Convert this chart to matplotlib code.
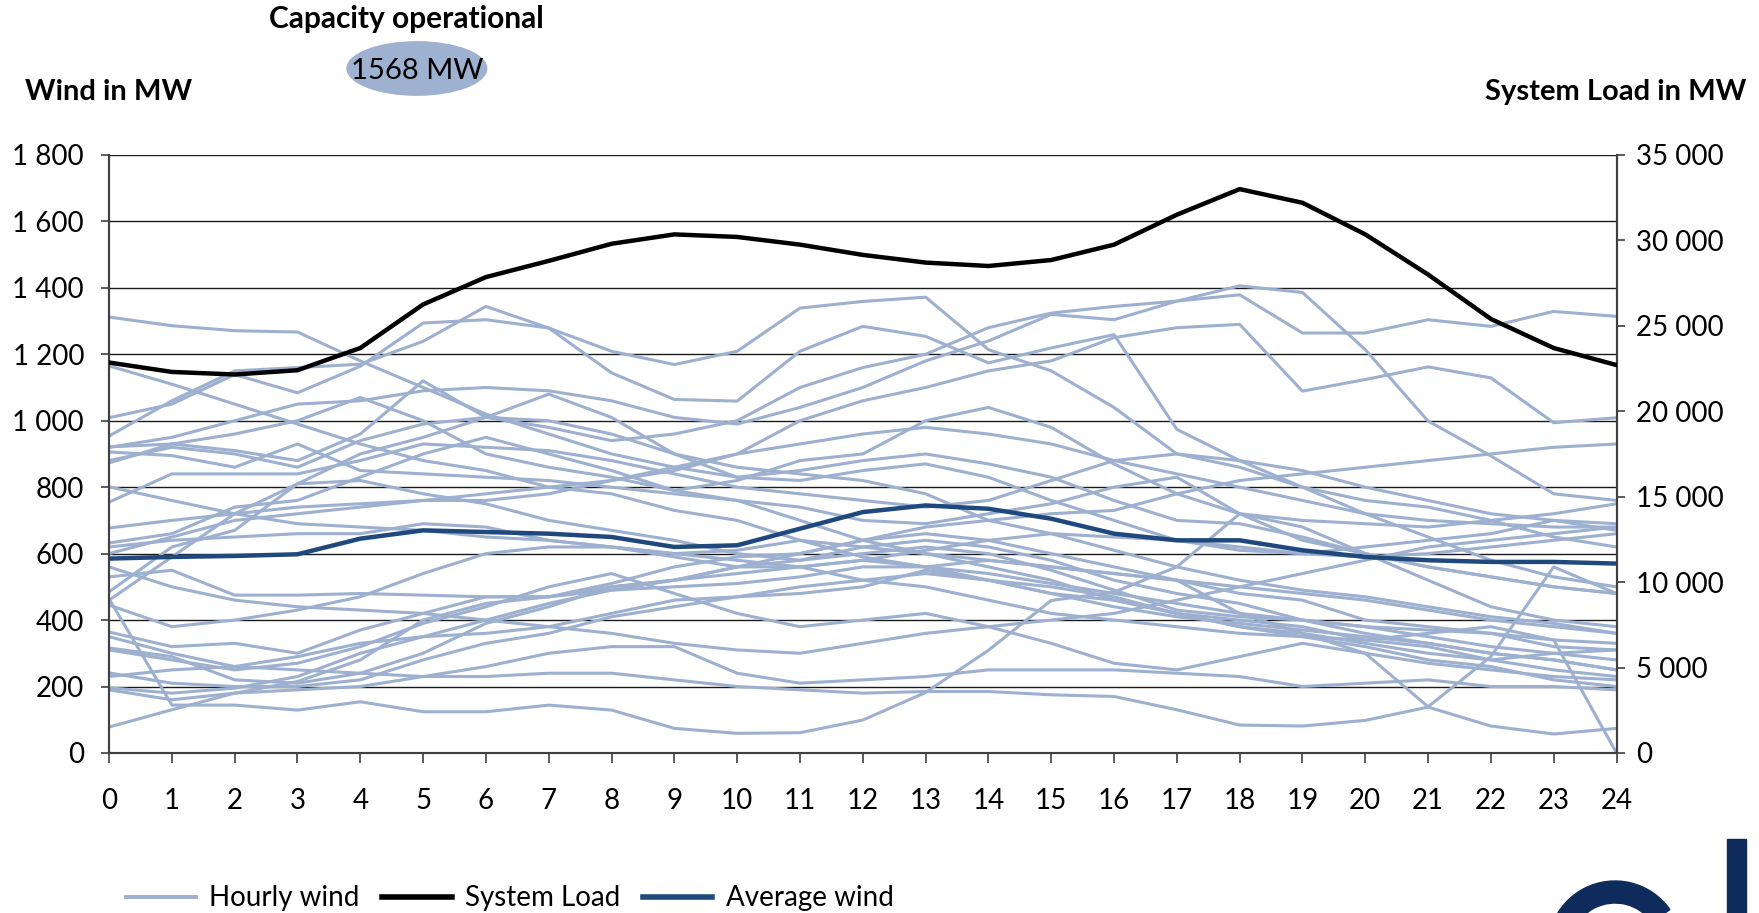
import numpy as np
import matplotlib
matplotlib.use("Agg")
import matplotlib.pyplot as plt
from matplotlib.lines import Line2D
from matplotlib.patches import Ellipse, Wedge, Rectangle
from matplotlib.ticker import FuncFormatter

plt.rcParams['font.family'] = ['Lato', 'DejaVu Sans']

# Data
hours = list(range(25))

system_load = [22850, 22300, 22150, 22400, 23700, 26250, 27850, 28800, 29800, 30350,
               30200, 29750, 29150, 28700, 28500, 28850, 29750, 31500, 33000, 32200,
               30350, 28000, 25400, 23700, 22700]

average_wind = [585, 590, 593, 598, 645, 670, 665, 660, 650, 620, 625, 675, 725, 745,
                735, 705, 660, 640, 640, 610, 590, 580, 575, 575, 570]

hourly_wind = [
    [1312, 1286, 1271, 1267, 1180, 1100, 1020, 960, 900, 860, 830, 850, 880, 900, 870, 830, 760, 700, 690, 650, 600, 560, 530, 500, 480],
    [1165, 1110, 1050, 990, 930, 880, 850, 800, 780, 730, 700, 640, 590, 560, 520, 480, 440, 410, 390, 370, 350, 330, 300, 280, 250],
    [1009, 1050, 1139, 1084, 1164, 1294, 1304, 1279, 1209, 1169, 1209, 1339, 1359, 1372, 1214, 1150, 1040, 900, 880, 850, 800, 760, 720, 700, 690],
    [954, 1060, 1150, 1160, 1170, 1239, 1344, 1279, 1144, 1064, 1059, 1209, 1284, 1254, 1174, 1219, 1259, 974, 880, 800, 760, 740, 700, 650, 620],
    [880, 920, 900, 860, 940, 990, 1010, 980, 940, 960, 1000, 1100, 1160, 1200, 1280, 1324, 1344, 1360, 1379, 1264, 1264, 1304, 1284, 1329, 1314],
    [920, 950, 1000, 1050, 1060, 1090, 1100, 1090, 1060, 1010, 990, 1040, 1100, 1180, 1240, 1320, 1304, 1360, 1406, 1386, 1214, 999, 894, 780, 760],
    [600, 650, 700, 720, 740, 760, 780, 800, 820, 850, 900, 1000, 1060, 1100, 1150, 1180, 1250, 1280, 1290, 1089, 1124, 1162, 1129, 994, 1009],
    [677, 700, 720, 740, 750, 760, 760, 780, 820, 860, 900, 930, 960, 980, 960, 930, 880, 840, 800, 760, 720, 700, 690, 680, 680],
    [632, 660, 740, 760, 830, 900, 950, 900, 850, 790, 820, 880, 900, 1000, 1040, 980, 870, 780, 720, 700, 690, 680, 700, 720, 750],
    [801, 760, 720, 690, 680, 670, 650, 640, 620, 590, 560, 560, 580, 610, 640, 660, 650, 640, 620, 600, 590, 600, 620, 640, 660],
    [755, 840, 840, 840, 880, 930, 920, 910, 880, 840, 800, 780, 760, 740, 760, 820, 880, 900, 860, 800, 720, 650, 580, 530, 500],
    [906, 895, 860, 930, 850, 840, 830, 820, 800, 780, 760, 700, 640, 600, 580, 560, 540, 520, 500, 480, 460, 430, 400, 380, 360],
    [873, 930, 960, 1000, 1070, 1000, 900, 860, 830, 790, 760, 740, 700, 690, 720, 750, 800, 830, 720, 640, 600, 560, 530, 500, 480],
    [921, 930, 910, 880, 960, 1120, 1010, 1000, 960, 900, 860, 840, 820, 780, 700, 660, 610, 560, 520, 490, 470, 440, 410, 390, 360],
    [530, 550, 475, 475, 480, 475, 470, 470, 500, 520, 540, 560, 580, 560, 540, 510, 480, 450, 420, 400, 380, 370, 360, 320, 310],
    [485, 620, 670, 810, 900, 950, 1010, 1080, 1010, 900, 830, 820, 850, 870, 830, 760, 700, 640, 610, 600, 620, 640, 660, 700, 670],
    [460, 590, 720, 810, 820, 780, 750, 700, 670, 640, 600, 580, 620, 640, 620, 580, 520, 480, 450, 400, 360, 330, 300, 280, 250],
    [445, 380, 400, 430, 470, 540, 600, 620, 620, 600, 610, 640, 620, 600, 560, 520, 460, 420, 380, 350, 320, 280, 260, 220, 200],
    [364, 320, 330, 300, 370, 420, 470, 470, 510, 560, 590, 600, 640, 680, 700, 720, 730, 780, 820, 840, 860, 880, 900, 920, 930],
    [316, 290, 220, 210, 240, 300, 390, 440, 500, 520, 560, 580, 600, 620, 600, 550, 490, 430, 410, 400, 380, 350, 320, 300, 280],
    [310, 280, 250, 270, 320, 390, 440, 500, 540, 480, 420, 380, 400, 420, 380, 330, 270, 250, 290, 330, 300, 270, 250, 230, 220],
    [241, 210, 200, 200, 220, 280, 330, 360, 410, 440, 470, 500, 520, 540, 520, 480, 460, 420, 380, 360, 330, 300, 280, 250, 230],
    [196, 180, 195, 230, 300, 350, 360, 380, 420, 460, 470, 480, 500, 550, 520, 500, 470, 420, 400, 380, 340, 320, 280, 300, 310],
    [190, 160, 180, 190, 200, 230, 260, 300, 320, 320, 240, 210, 220, 230, 250, 250, 250, 240, 230, 200, 210, 220, 200, 200, 190],
    [78, 130, 180, 215, 280, 400, 450, 470, 490, 500, 510, 530, 560, 560, 580, 560, 540, 520, 480, 460, 400, 380, 360, 340, 330],
    [464, 144, 144, 129, 154, 124, 124, 144, 129, 74, 59, 61, 99, 182, 309, 459, 484, 560, 720, 680, 600, 520, 440, 400, 380],
    [350, 300, 260, 250, 240, 230, 230, 240, 240, 220, 200, 190, 180, 185, 185, 175, 170, 130, 84, 81, 98, 138, 81, 57, 74],
    [230, 250, 260, 290, 330, 350, 400, 450, 490, 520, 560, 600, 640, 660, 640, 600, 560, 520, 420, 360, 300, 139, 290, 560, 480],
    [620, 640, 650, 660, 660, 690, 680, 640, 620, 600, 580, 560, 520, 500, 460, 420, 400, 380, 360, 350, 340, 360, 380, 340, 0],
    [560, 500, 460, 440, 430, 420, 400, 380, 360, 330, 310, 300, 330, 360, 380, 400, 420, 460, 500, 540, 580, 620, 640, 660, 680],
]

HOURLY_COLOR = '#9DB0CF'
AVG_COLOR = '#1F497D'
LOGO_COLOR = '#0E2B5C'
TICK_SIZE = 20

fig = plt.figure(figsize=(17.59, 9.13), dpi=100)
ax = fig.add_axes([0.062, 0.1753, 0.857, 0.655])

for day in hourly_wind:
    ax.plot(hours, day, color=HOURLY_COLOR, lw=2.2, zorder=2)
ax.plot(hours, average_wind, color=AVG_COLOR, lw=3.2, zorder=3)

ax.set_xlim(0, 24)
ax.set_ylim(0, 1800)
ax.set_xticks(hours)
ax.set_yticks(range(0, 1801, 200))
ax.yaxis.grid(True, color='#1a1a1a', lw=1.0)
ax.set_axisbelow(True)

space_fmt = FuncFormatter(lambda v, p: f'{int(v):,}'.replace(',', ' '))
ax.yaxis.set_major_formatter(space_fmt)

ax2 = ax.twinx()
ax2.plot(hours, system_load, color='black', lw=3.2, zorder=4)
ax2.set_ylim(0, 35000)
ax2.set_yticks(range(0, 35001, 5000))
ax2.yaxis.set_major_formatter(space_fmt)

for a in (ax, ax2):
    a.spines['top'].set_visible(False)
    for s in ('left', 'right', 'bottom'):
        a.spines[s].set_color('#404040')
        a.spines[s].set_linewidth(1.5)
ax.tick_params(axis='y', length=6, width=1.2, color='#404040', pad=12, labelsize=TICK_SIZE)
ax.tick_params(axis='x', length=7, width=1.2, color='#404040', pad=18, labelsize=TICK_SIZE)
ax2.tick_params(axis='y', length=6, width=1.2, color='#404040', pad=8, labelsize=TICK_SIZE)

# Titles and capacity badge
fig.text(0.0142, 0.899, 'Wind in MW', fontsize=21, fontweight='bold', ha='left', va='center')
fig.text(0.993, 0.899, 'System Load in MW', fontsize=21, fontweight='bold', ha='right', va='center')
fig.text(0.2308, 0.979, 'Capacity operational', fontsize=21.5, fontweight='bold', ha='center', va='center')
fig.patches.append(Ellipse((0.237, 0.925), 0.0802, 0.06, transform=fig.transFigure,
                           facecolor='#9FB1D1', edgecolor='none'))
fig.text(0.237, 0.922, '1568 MW', fontsize=21, ha='center', va='center')

# Legend
handles = [Line2D([], [], color=HOURLY_COLOR, lw=2.8),
           Line2D([], [], color='black', lw=4),
           Line2D([], [], color=AVG_COLOR, lw=4)]
fig.legend(handles, ['Hourly wind', 'System Load', 'Average wind'], loc='center',
           bbox_to_anchor=(0.29, 0.016), ncol=3, frameon=False, fontsize=20,
           handlelength=2.5, handletextpad=0.5, columnspacing=0.8)

# Partial logo in the corner (shapes, cut by the figure edge)
fig.patches.append(Wedge((16.15, -0.35), 0.67, 35, 200, width=0.22,
                         transform=fig.dpi_scale_trans, color=LOGO_COLOR))
fig.patches.append(Rectangle((17.27, -0.1), 0.19, 0.84,
                             transform=fig.dpi_scale_trans, color=LOGO_COLOR))

fig.savefig('out.png', dpi=100)
